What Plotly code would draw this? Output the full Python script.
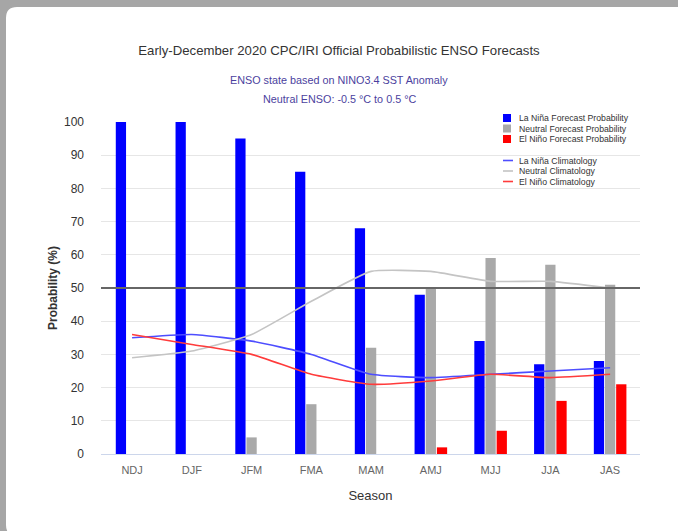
import plotly.graph_objects as go

W, H = 678, 531
L, R, T, B = 101, 640, 122, 454  # plot area in px

seasons = ["NDJ", "DJF", "JFM", "FMA", "MAM", "AMJ", "MJJ", "JJA", "JAS"]
lanina_fc = [100, 100, 95, 85, 68, 48, 34, 27, 28]
neutral_fc = [0, 0, 5, 15, 32, 50, 59, 57, 51]
elnino_fc = [0, 0, 0, 0, 0, 2, 7, 16, 21]
lanina_clim = [35, 36, 34, 30, 24, 23, 24, 25, 26]
neutral_clim = [29, 31, 36, 46, 55, 55, 52, 52, 50]
elnino_clim = [36, 33, 30, 24, 21, 22, 24, 23, 24]
y_ticks = [0, 10, 20, 30, 40, 50, 60, 70, 80, 90, 100]

bar_names = ["La Niña Forecast Probability", "Neutral Forecast Probability", "El Niño Forecast Probability"]
line_names = ["La Niña Climatology", "Neutral Climatology", "El Niño Climatology"]
bar_colors = ["#0000ff", "#a9a9a9", "#ff0000"]
line_colors = ["#4d4dff", "#c4c4c4", "#ff3b3b"]


def px_x(x):
    return (x - L) / (R - L)


def px_y(y):
    return (B - y) / (B - T)


def pt(x, y):
    return f"{px_x(x)},{px_y(y)}"


fig = go.Figure()
for name, vals, col in zip(bar_names, [lanina_fc, neutral_fc, elnino_fc], bar_colors):
    fig.add_trace(go.Bar(x=seasons, y=vals, name=name, marker=dict(color=col, line=dict(width=0)),
                         showlegend=False))
for name, vals, col in zip(line_names, [lanina_clim, neutral_clim, elnino_clim], line_colors):
    fig.add_trace(go.Scatter(x=seasons, y=vals, name=name, mode="lines",
                             line=dict(color=col, width=1.6, shape="spline", smoothing=0.45),
                             showlegend=False))

shapes = []
# grey frame around the white card (top band + left band with rounded inner corners)
gx, gy, r = 6, 7, 11
frame = (f"M {pt(-5, -5)} L {pt(W + 20, -5)} L {pt(W + 20, gy)} L {pt(gx + r, gy)} "
         f"Q {pt(gx, gy)} {pt(gx, gy + r)} L {pt(gx, H - 6)} Q {pt(gx, H + 5)} {pt(gx + r, H + 5)} "
         f"L {pt(-5, H + 10)} Z")
shapes.append(dict(type="path", xref="paper", yref="paper", path=frame,
                   fillcolor="#a6a6a6", line=dict(width=0), layer="below"))
# 50% reference line
shapes.append(dict(type="line", xref="paper", yref="y", x0=0, x1=1, y0=50, y1=50,
                   line=dict(color="#666666", width=2), layer="above"))

annotations = []
# subtitle
for i, txt in enumerate(["ENSO state based on NINO3.4 SST Anomaly", "Neutral ENSO: -0.5 °C to 0.5 °C"]):
    annotations.append(dict(text=txt, xref="paper", yref="paper", x=px_x(339), y=px_y(80 + 18.5 * i),
                            showarrow=False, xanchor="center", yanchor="middle",
                            font=dict(size=10.8, color="#4b3f9e", family="Liberation Sans")))

# legend built in layout coordinates
leg_x, leg_y0, step, gap = 503, 118, 10.5, 21.5
for i, (name, col) in enumerate(zip(bar_names, bar_colors)):
    yc = leg_y0 + step * i
    shapes.append(dict(type="rect", xref="paper", yref="paper",
                       x0=px_x(leg_x), x1=px_x(leg_x + 8), y0=px_y(yc - 4), y1=px_y(yc + 4),
                       fillcolor=col, line=dict(width=0)))
    annotations.append(dict(text=name, xref="paper", yref="paper", x=px_x(leg_x + 14), y=px_y(yc),
                            showarrow=False, xanchor="left", yanchor="middle",
                            font=dict(size=8.7, color="#333333", family="Liberation Sans")))
for i, (name, col) in enumerate(zip(line_names, line_colors)):
    yc = leg_y0 + step * 2 + gap + step * i
    shapes.append(dict(type="line", xref="paper", yref="paper",
                       x0=px_x(leg_x), x1=px_x(leg_x + 10), y0=px_y(yc), y1=px_y(yc),
                       line=dict(color=col, width=1.6)))
    annotations.append(dict(text=name, xref="paper", yref="paper", x=px_x(leg_x + 14), y=px_y(yc),
                            showarrow=False, xanchor="left", yanchor="middle",
                            font=dict(size=8.7, color="#333333", family="Liberation Sans")))

fig.update_layout(
    width=W, height=H,
    margin=dict(l=L, r=W - R, t=T, b=H - B, pad=0),
    paper_bgcolor="white",
    plot_bgcolor="rgba(0,0,0,0)",
    font=dict(family="Liberation Sans", color="#333333"),
    title=dict(text="Early-December 2020 CPC/IRI Official Probabilistic ENSO Forecasts",
               x=px_x(339), xref="paper", xanchor="center", y=1 - 50 / H, yanchor="middle",
               font=dict(size=13.2, color="#333333", family="Liberation Sans")),
    barmode="group", bargap=0.44, bargroupgap=0.08,
    showlegend=False,
    shapes=shapes,
    annotations=annotations,
    xaxis=dict(showgrid=False, showline=True, linecolor="#ccd6eb", linewidth=1,
               tickfont=dict(size=11, color="#666666"), ticks="", ticklabelstandoff=6,
               title=dict(text="Season", font=dict(size=13, color="#333333"), standoff=15),
               range=[-0.52, 8.5], fixedrange=True),
    yaxis=dict(range=[0, 100], tickvals=y_ticks, showgrid=True, gridcolor="#e6e6e6", gridwidth=1,
               zeroline=False, showline=False, tickfont=dict(size=12, color="#333333"),
               ticklabelstandoff=16,
               title=dict(text="<b>Probability (%)</b>", font=dict(size=12, color="#333333"), standoff=3)),
)

fig.write_html("out.html", config={"displayModeBar": False},
               post_script=("document.documentElement.style.overflow='hidden';"
                            "document.body.style.margin='0';document.body.style.overflow='hidden';"))
